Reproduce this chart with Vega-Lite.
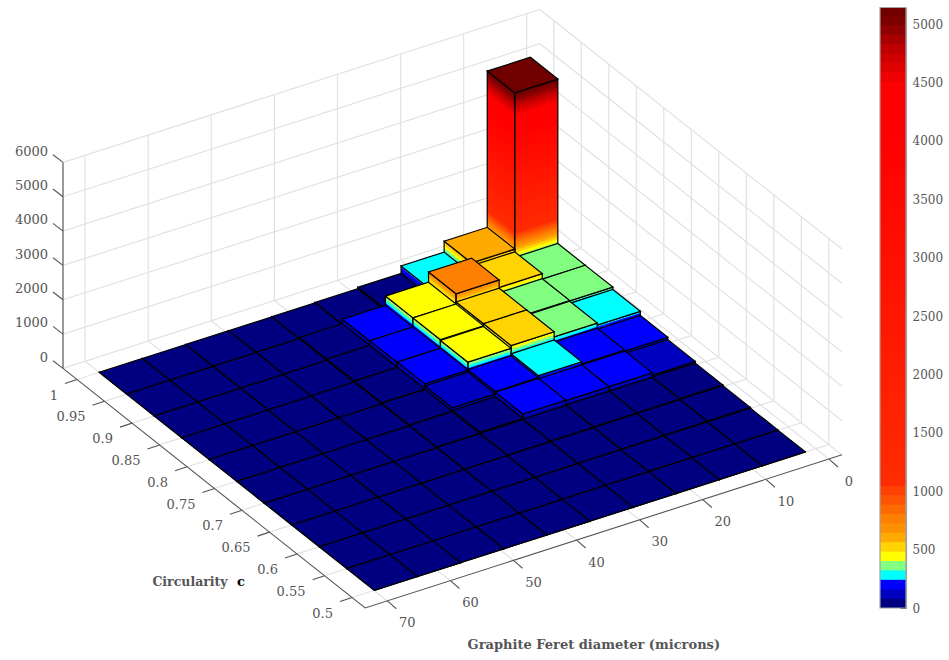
{"$schema":"https://vega.github.io/schema/vega-lite/v6.json","width":949,"height":660,"padding":0,"autosize":{"type":"none"},"background":"white","config":{"view":{"stroke":null},"font":"DejaVu Serif"},
"datasets":{
"cells":[
{"d":1.66,"c":0.95,"n":5150},{"d":8.49,"c":0.95,"n":600},{"d":15.32,"c":0.95,"n":280},{"d":22.15,"c":0.95,"n":60},{"d":28.98,"c":0.95,"n":20},{"d":35.81,"c":0.95,"n":10},{"d":42.64,"c":0.95,"n":5},{"d":49.47,"c":0.95,"n":5},{"d":56.3,"c":0.95,"n":3},{"d":63.13,"c":0.95,"n":2},
{"d":1.66,"c":0.9,"n":360},{"d":8.49,"c":0.9,"n":520},{"d":15.32,"c":0.9,"n":740},{"d":22.15,"c":0.9,"n":440},{"d":28.98,"c":0.9,"n":170},{"d":35.81,"c":0.9,"n":40},{"d":42.64,"c":0.9,"n":10},{"d":49.47,"c":0.9,"n":5},{"d":56.3,"c":0.9,"n":3},{"d":63.13,"c":0.9,"n":2},
{"d":1.66,"c":0.85,"n":360},{"d":8.49,"c":0.85,"n":370},{"d":15.32,"c":0.85,"n":500},{"d":22.15,"c":0.85,"n":440},{"d":28.98,"c":0.85,"n":180},{"d":35.81,"c":0.85,"n":40},{"d":42.64,"c":0.85,"n":10},{"d":49.47,"c":0.85,"n":5},{"d":56.3,"c":0.85,"n":3},{"d":63.13,"c":0.85,"n":2},
{"d":1.66,"c":0.8,"n":290},{"d":8.49,"c":0.8,"n":350},{"d":15.32,"c":0.8,"n":500},{"d":22.15,"c":0.8,"n":420},{"d":28.98,"c":0.8,"n":190},{"d":35.81,"c":0.8,"n":40},{"d":42.64,"c":0.8,"n":15},{"d":49.47,"c":0.8,"n":5},{"d":56.3,"c":0.8,"n":3},{"d":63.13,"c":0.8,"n":2},
{"d":1.66,"c":0.75,"n":170},{"d":8.49,"c":0.75,"n":200},{"d":15.32,"c":0.75,"n":260},{"d":22.15,"c":0.75,"n":200},{"d":28.98,"c":0.75,"n":130},{"d":35.81,"c":0.75,"n":30},{"d":42.64,"c":0.75,"n":10},{"d":49.47,"c":0.75,"n":5},{"d":56.3,"c":0.75,"n":3},{"d":63.13,"c":0.75,"n":2},
{"d":1.66,"c":0.7,"n":100},{"d":8.49,"c":0.7,"n":170},{"d":15.32,"c":0.7,"n":170},{"d":22.15,"c":0.7,"n":180},{"d":28.98,"c":0.7,"n":50},{"d":35.81,"c":0.7,"n":20},{"d":42.64,"c":0.7,"n":5},{"d":49.47,"c":0.7,"n":3},{"d":56.3,"c":0.7,"n":2},{"d":63.13,"c":0.7,"n":1},
{"d":1.66,"c":0.65,"n":50},{"d":8.49,"c":0.65,"n":40},{"d":15.32,"c":0.65,"n":40},{"d":22.15,"c":0.65,"n":30},{"d":28.98,"c":0.65,"n":20},{"d":35.81,"c":0.65,"n":10},{"d":42.64,"c":0.65,"n":5},{"d":49.47,"c":0.65,"n":3},{"d":56.3,"c":0.65,"n":2},{"d":63.13,"c":0.65,"n":1},
{"d":1.66,"c":0.6,"n":30},{"d":8.49,"c":0.6,"n":25},{"d":15.32,"c":0.6,"n":20},{"d":22.15,"c":0.6,"n":15},{"d":28.98,"c":0.6,"n":10},{"d":35.81,"c":0.6,"n":5},{"d":42.64,"c":0.6,"n":3},{"d":49.47,"c":0.6,"n":2},{"d":56.3,"c":0.6,"n":1},{"d":63.13,"c":0.6,"n":1},
{"d":1.66,"c":0.55,"n":10},{"d":8.49,"c":0.55,"n":10},{"d":15.32,"c":0.55,"n":10},{"d":22.15,"c":0.55,"n":8},{"d":28.98,"c":0.55,"n":5},{"d":35.81,"c":0.55,"n":3},{"d":42.64,"c":0.55,"n":2},{"d":49.47,"c":0.55,"n":1},{"d":56.3,"c":0.55,"n":1},{"d":63.13,"c":0.55,"n":1},
{"d":1.66,"c":0.5,"n":5},{"d":8.49,"c":0.5,"n":5},{"d":15.32,"c":0.5,"n":5},{"d":22.15,"c":0.5,"n":3},{"d":28.98,"c":0.5,"n":2},{"d":35.81,"c":0.5,"n":1},{"d":42.64,"c":0.5,"n":1},{"d":49.47,"c":0.5,"n":1},{"d":56.3,"c":0.5,"n":1},{"d":63.13,"c":0.5,"n":0}
],
"ticks":[
{"axis":"z","value":0},{"axis":"z","value":1000},{"axis":"z","value":2000},{"axis":"z","value":3000},{"axis":"z","value":4000},{"axis":"z","value":5000},{"axis":"z","value":6000},
{"axis":"u","value":0},{"axis":"u","value":10},{"axis":"u","value":20},{"axis":"u","value":30},{"axis":"u","value":40},{"axis":"u","value":50},{"axis":"u","value":60},{"axis":"u","value":70},
{"axis":"v","value":0.5},{"axis":"v","value":0.55},{"axis":"v","value":0.6},{"axis":"v","value":0.65},{"axis":"v","value":0.7},{"axis":"v","value":0.75},{"axis":"v","value":0.8},{"axis":"v","value":0.85},{"axis":"v","value":0.9},{"axis":"v","value":0.95},{"axis":"v","value":1}
],
"bands":[{"lo":0},{"lo":80.47},{"lo":160.94},{"lo":241.41},{"lo":321.88},{"lo":402.34},{"lo":482.81},{"lo":563.28},{"lo":643.75},{"lo":724.22},{"lo":804.69},{"lo":885.16},{"lo":965.63},{"lo":1046.09},{"lo":1126.56},{"lo":1207.03},{"lo":1287.5},{"lo":1367.97},{"lo":1448.44},{"lo":1528.91},{"lo":1609.38},{"lo":1689.84},{"lo":1770.31},{"lo":1850.78},{"lo":1931.25},{"lo":2011.72},{"lo":2092.19},{"lo":2172.66},{"lo":2253.13},{"lo":2333.59},{"lo":2414.06},{"lo":2494.53},{"lo":2575},{"lo":2655.47},{"lo":2735.94},{"lo":2816.41},{"lo":2896.88},{"lo":2977.34},{"lo":3057.81},{"lo":3138.28},{"lo":3218.75},{"lo":3299.22},{"lo":3379.69},{"lo":3460.16},{"lo":3540.63},{"lo":3621.09},{"lo":3701.56},{"lo":3782.03},{"lo":3862.5},{"lo":3942.97},{"lo":4023.44},{"lo":4103.91},{"lo":4184.38},{"lo":4264.84},{"lo":4345.31},{"lo":4425.78},{"lo":4506.25},{"lo":4586.72},{"lo":4667.19},{"lo":4747.66},{"lo":4828.13},{"lo":4908.59},{"lo":4989.06},{"lo":5069.53}]
},
"layer":[
{"data":{"name":"ticks"},
"transform":[
{"calculate":"datum.axis=='z'?[[73.5,1.0255,datum.value],[-2.06,1.0255,datum.value],[-2.06,0.476,datum.value]]:datum.axis=='u'?[[datum.value,0.476,0],[datum.value,1.0255,0],[datum.value,1.0255,6000]]:[[73.5,datum.value,0],[-2.06,datum.value,0],[-2.06,datum.value,6000]]","as":"P"},
{"calculate":"{type:'Feature',properties:{},geometry:{type:'LineString',coordinates:[[1090.8-6.31*datum.P[0][0]-550*datum.P[0][1],666.7+2.025*datum.P[0][0]-436*datum.P[0][1]-0.03433*datum.P[0][2]],[1090.8-6.31*datum.P[1][0]-550*datum.P[1][1],666.7+2.025*datum.P[1][0]-436*datum.P[1][1]-0.03433*datum.P[1][2]],[1090.8-6.31*datum.P[2][0]-550*datum.P[2][1],666.7+2.025*datum.P[2][0]-436*datum.P[2][1]-0.03433*datum.P[2][2]]]}}","as":"geo"}],
"projection":{"type":"identity","scale":1,"translate":[0,0]},
"mark":{"type":"geoshape","filled":false,"stroke":"#e2e2e2","strokeWidth":1.2},
"encoding":{"shape":{"field":"geo","type":"geojson"}}},
{"data":{"name":"cells"},
"transform":[
{"calculate":"ceil(datum.n/80.47)","as":"m"},
{"calculate":"sequence(0,2*datum.m+3)","as":"parts"},
{"flatten":["parts"],"as":["p"]},
{"calculate":"1090.8-6.31*(datum.d+6.83)-550*datum.c","as":"ax"},
{"calculate":"666.7+2.025*(datum.d+6.83)-436*datum.c","as":"ay"},
{"calculate":"datum.p<datum.m?datum.p:datum.p-datum.m","as":"k"},
{"calculate":"datum.p>=2*datum.m","as":"whole"},
{"calculate":"datum.p==2*datum.m+2","as":"top"},
{"calculate":"datum.p<datum.m||datum.p==2*datum.m","as":"faceL"},
{"calculate":"datum.whole?0:datum.k*80.47*0.03433","as":"h0"},
{"calculate":"datum.whole?datum.n*0.03433:min((datum.k+1)*80.47+30,datum.n)*0.03433","as":"h1"},
{"calculate":"datum.faceL?-27.5:43.1","as":"ex"},
{"calculate":"datum.faceL?-21.8:-13.83","as":"ey"},
{"calculate":"datum.top?datum.n:(datum.k+0.5)*80.47","as":"lvl"},
{"calculate":"datum.whole&&!datum.top","as":"outline"},
{"calculate":"{type:'Feature',properties:{},geometry:{type:'Polygon',coordinates:[datum.top?[[datum.ax,datum.ay-datum.h1],[datum.ax-27.5,datum.ay-21.8-datum.h1],[datum.ax+15.6,datum.ay-35.63-datum.h1],[datum.ax+43.1,datum.ay-13.83-datum.h1],[datum.ax,datum.ay-datum.h1]]:[[datum.ax,datum.ay-datum.h0],[datum.ax+datum.ex,datum.ay+datum.ey-datum.h0],[datum.ax+datum.ex,datum.ay+datum.ey-datum.h1],[datum.ax,datum.ay-datum.h1],[datum.ax,datum.ay-datum.h0]]]}}","as":"geo"}],
"projection":{"type":"identity","scale":1,"translate":[0,0]},
"mark":{"type":"geoshape"},
"encoding":{"shape":{"field":"geo","type":"geojson"},
"fill":{"field":"lvl","type":"quantitative","legend":null,"scale":{"type":"quantize","domain":[0,5150],"range":["#000080","#0000c0","#0000ff","#00ffff","#80ff80","#ffff00","#ffd400","#ffaa00","#ff9000","#ff8000","#ff6a00","#ff5500","#ff4000","#ff2b00","#ff2a00","#ff2900","#ff2800","#ff2600","#ff2500","#ff2400","#ff2300","#ff2200","#ff2100","#ff1f00","#ff1e00","#ff1d00","#ff1c00","#ff1b00","#ff1a00","#ff1800","#ff1700","#ff1600","#ff1500","#ff1400","#ff1300","#ff1100","#ff1000","#ff0f00","#ff0e00","#ff0d00","#ff0c00","#ff0a00","#ff0900","#ff0800","#ff0700","#ff0600","#ff0500","#ff0300","#ff0200","#ff0100","#ff0000","#ff0000","#ff0000","#ff0000","#ff0000","#ff0000","#f00000","#e00000","#d00000","#c00000","#a80000","#900000","#7c0000","#700000"]}},
"stroke":{"condition":{"test":"datum.whole","value":"#000000"},"value":"transparent"},
"strokeWidth":{"condition":{"test":"datum.whole","value":1.2},"value":0},
"fillOpacity":{"condition":{"test":"datum.outline","value":0},"value":1}}},
{"data":{"values":[{"w":"z"},{"w":"f"}]},
"transform":[
{"calculate":"{type:'Feature',properties:{},geometry:{type:'LineString',coordinates:datum.w=='z'?[[63,368.4],[63,162.4]]:[[63,368.4],[365.2,608],[842,454.8]]}}","as":"geo"}],
"projection":{"type":"identity","scale":1,"translate":[0,0]},
"mark":{"type":"geoshape","filled":false},
"encoding":{"shape":{"field":"geo","type":"geojson"},
"stroke":{"condition":{"test":"datum.w=='z'","value":"#808080"},"value":"#555555"},
"strokeWidth":{"condition":{"test":"datum.w=='z'","value":1.6},"value":1.1}}},
{"data":{"name":"ticks"},
"transform":[
{"calculate":"datum.axis=='z'?63:1090.8-6.31*(datum.axis=='u'?datum.value:73.5)-550*(datum.axis=='v'?datum.value:0.476)","as":"ax"},
{"calculate":"datum.axis=='z'?368.4-0.03433*datum.value:666.7+2.025*(datum.axis=='u'?datum.value:73.5)-436*(datum.axis=='v'?datum.value:0.476)","as":"ay"},
{"calculate":"datum.axis=='z'?-10:datum.axis=='u'?9:-12","as":"tx"},
{"calculate":"datum.axis=='z'?-7.7:datum.axis=='u'?7.8:4","as":"ty"},
{"calculate":"{type:'Feature',properties:{},geometry:{type:'LineString',coordinates:[[datum.ax,datum.ay],[datum.ax+datum.tx,datum.ay+datum.ty]]}}","as":"geo"}],
"projection":{"type":"identity","scale":1,"translate":[0,0]},
"mark":{"type":"geoshape","filled":false,"stroke":"#555555","strokeWidth":1.1},
"encoding":{"shape":{"field":"geo","type":"geojson"}}},
{"data":{"name":"ticks"},
"transform":[{"filter":"datum.axis!='u'"},
{"calculate":"datum.axis=='z'?48:1090.8-6.31*73.5-550*datum.value-19","as":"lon"},
{"calculate":"datum.axis=='z'?357.5-0.03433*datum.value:666.7+2.025*73.5-436*datum.value+16","as":"lat"},
{"calculate":"''+datum.value","as":"label"}],
"projection":{"type":"identity","scale":1,"translate":[0,0]},
"mark":{"type":"text","align":"right","baseline":"middle","font":"DejaVu Serif","fontSize":13,"color":"#555555"},
"encoding":{"longitude":{"field":"lon","type":"quantitative"},"latitude":{"field":"lat","type":"quantitative"},"text":{"field":"label","type":"nominal"}}},
{"data":{"name":"ticks"},
"transform":[{"filter":"datum.axis=='u'"},
{"calculate":"1090.8-6.31*datum.value-550*0.476+20","as":"lon"},
{"calculate":"666.7+2.025*datum.value-436*0.476+22.5","as":"lat"},
{"calculate":"''+datum.value","as":"label"}],
"projection":{"type":"identity","scale":1,"translate":[0,0]},
"mark":{"type":"text","align":"center","baseline":"middle","font":"DejaVu Serif","fontSize":13,"color":"#555555"},
"encoding":{"longitude":{"field":"lon","type":"quantitative"},"latitude":{"field":"lat","type":"quantitative"},"text":{"field":"label","type":"nominal"}}},
{"data":{"values":[{"label":"Graphite Feret diameter (microns)","d":36,"c":0.476}]},
"transform":[{"calculate":"1090.8-6.31*datum.d-550*datum.c-8","as":"lon"},{"calculate":"666.7+2.025*datum.d-436*datum.c+113","as":"lat"}],
"projection":{"type":"identity","scale":1,"translate":[0,0]},
"mark":{"type":"text","align":"center","baseline":"middle","font":"DejaVu Serif","fontSize":13,"fontWeight":"bold","color":"#555555"},
"encoding":{"longitude":{"field":"lon","type":"quantitative"},"latitude":{"field":"lat","type":"quantitative"},"text":{"field":"label","type":"nominal"}}},
{"data":{"values":[{"label":"Circularity","d":73.5,"c":0.62}]},
"transform":[{"calculate":"1090.8-6.31*datum.d-550*datum.c-96","as":"lon"},{"calculate":"666.7+2.025*datum.d-436*datum.c+37","as":"lat"}],
"projection":{"type":"identity","scale":1,"translate":[0,0]},
"mark":{"type":"text","align":"center","baseline":"middle","font":"DejaVu Serif","fontSize":12.5,"fontWeight":"bold","color":"#555555"},
"encoding":{"longitude":{"field":"lon","type":"quantitative"},"latitude":{"field":"lat","type":"quantitative"},"text":{"field":"label","type":"nominal"}}},
{"data":{"values":[{"label":"c","d":73.5,"c":0.62}]},
"transform":[{"calculate":"1090.8-6.31*datum.d-550*datum.c-45","as":"lon"},{"calculate":"666.7+2.025*datum.d-436*datum.c+37","as":"lat"}],
"projection":{"type":"identity","scale":1,"translate":[0,0]},
"mark":{"type":"text","align":"center","baseline":"middle","font":"DejaVu Serif","fontSize":13,"fontWeight":"bold","color":"#000000"},
"encoding":{"longitude":{"field":"lon","type":"quantitative"},"latitude":{"field":"lat","type":"quantitative"},"text":{"field":"label","type":"nominal"}}},
{"data":{"name":"bands"},
"transform":[{"calculate":"min(datum.lo+95,5143)","as":"hi"}],
"mark":{"type":"rect","strokeWidth":0},
"encoding":{
"x":{"datum":0,"type":"quantitative","axis":null,"scale":{"domain":[0,1],"range":[880,906],"nice":false,"zero":false}},
"x2":{"datum":1},
"y":{"field":"lo","type":"quantitative","title":null,"scale":{"domain":[0,5143],"range":[608,7.5],"nice":false,"zero":false},"axis":{"orient":"right","offset":-43,"values":[0,500,1000,1500,2000,2500,3000,3500,4000,4500,5000],"grid":false,"domainColor":"#a0a0a0","domainWidth":1.2,"tickColor":"#555555","tickSize":-6,"tickWidth":1,"labelPadding":12,"labelFont":"DejaVu Serif","labelFontSize":12,"labelColor":"#555555","labelFlush":false,"labelOverlap":false,"format":"d"}},
"y2":{"field":"hi"},
"fill":{"field":"lo","type":"quantitative","legend":null,"scale":{"type":"quantize","domain":[-40.235,5109.765],"range":["#000080","#0000c0","#0000ff","#00ffff","#80ff80","#ffff00","#ffd400","#ffaa00","#ff9000","#ff8000","#ff6a00","#ff5500","#ff4000","#ff2b00","#ff2a00","#ff2900","#ff2800","#ff2600","#ff2500","#ff2400","#ff2300","#ff2200","#ff2100","#ff1f00","#ff1e00","#ff1d00","#ff1c00","#ff1b00","#ff1a00","#ff1800","#ff1700","#ff1600","#ff1500","#ff1400","#ff1300","#ff1100","#ff1000","#ff0f00","#ff0e00","#ff0d00","#ff0c00","#ff0a00","#ff0900","#ff0800","#ff0700","#ff0600","#ff0500","#ff0300","#ff0200","#ff0100","#ff0000","#ff0000","#ff0000","#ff0000","#ff0000","#ff0000","#f00000","#e00000","#d00000","#c00000","#a80000","#900000","#7c0000","#700000"]}}}},
{"data":{"values":[{"lo":0,"hi":5143}]},
"mark":{"type":"rect","fillOpacity":0,"stroke":"#a0a0a0","strokeWidth":1.2},
"encoding":{"x":{"datum":0,"type":"quantitative","axis":null,"scale":{"domain":[0,1],"range":[880,906],"nice":false,"zero":false}},"x2":{"datum":1},
"y":{"field":"lo","type":"quantitative","title":null,"scale":{"domain":[0,5143],"range":[608,7.5],"nice":false,"zero":false}},"y2":{"field":"hi"}}}
],
"resolve":{"scale":{"fill":"independent","stroke":"independent"}}}
